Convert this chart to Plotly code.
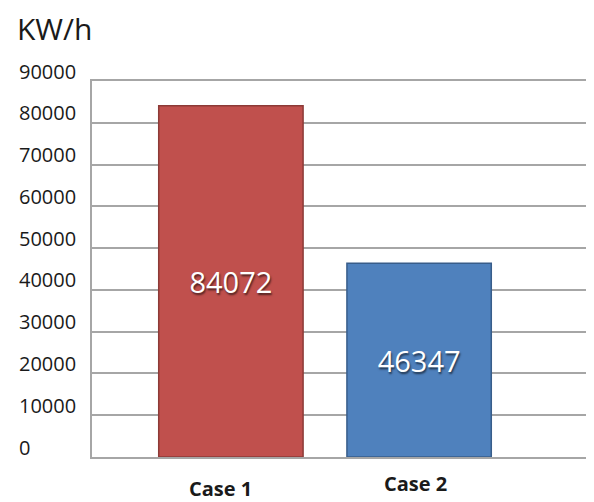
import plotly.graph_objects as go

categories = ["Case 1", "Case 2"]
values = [84072, 46347]
tick_values = [0, 10000, 20000, 30000, 40000, 50000, 60000, 70000, 80000, 90000]
tick_labels = [str(v) for v in tick_values]
unit_label = "KW/h"

bar_colors = ["#C0504D", "#4F81BD"]
bar_edges = ["#8C3A37", "#385D8A"]

fig = go.Figure()
fig.add_trace(go.Bar(
    x=categories, y=values,
    width=0.767,
    marker=dict(color=bar_colors, line=dict(color=bar_edges, width=1.5)),
    text=[str(v) for v in values],
    textposition="inside",
    insidetextanchor="middle",
    textfont=dict(family="Open Sans", size=29, color="white",
                  shadow="1px 2px 2px rgba(0,0,0,0.6)"),
    cliponaxis=False,
    hoverinfo="skip",
))

annotations = []
# y tick labels, left aligned
for v, lab in zip(tick_values, tick_labels):
    annotations.append(dict(
        xref="paper", yref="y", x=(17 - 92) / 500, y=v,
        text=lab, showarrow=False, xanchor="left", yanchor="middle",
        yshift=10, font=dict(family="Open Sans", size=20, color="#1a1a1a"),
    ))
# category labels
cat_shifts = [(-10, -31), (-4, -26)]
for c, (dx, dy) in zip(categories, cat_shifts):
    annotations.append(dict(
        xref="x", yref="paper", x=c, y=0,
        text="<b>%s</b>" % c, showarrow=False, xanchor="center", yanchor="middle",
        xshift=dx, yshift=dy, borderpad=0,
        font=dict(family="Open Sans", size=20, color="#1a1a1a"),
    ))
# unit title
annotations.append(dict(
    xref="paper", yref="paper", x=(15 - 92) / 500, y=1 + (81 - 28) / 376,
    text=unit_label, showarrow=False, xanchor="left", yanchor="middle",
    font=dict(family="Open Sans", size=30, color="#1a1a1a"),
))

fig.update_layout(
    width=594, height=502,
    margin=dict(l=84, r=10, t=73, b=53),
    paper_bgcolor="white", plot_bgcolor="white",
    showlegend=False,
    annotations=annotations,
    xaxis=dict(
        type="category", range=[-0.738, 1.908],
        showticklabels=False, ticks="", showgrid=False, zeroline=False,
        showline=True, linecolor="#A6A6A6", linewidth=1.5, mirror=True,
    ),
    yaxis=dict(
        range=[0, 90000], tickvals=tick_values, showticklabels=False, ticks="",
        showgrid=True, gridcolor="#A6A6A6", gridwidth=1.5, zeroline=False,
        showline=True, linecolor="#A6A6A6", linewidth=1.5, mirror=True,
    ),
)

fig.write_html("out.html")
